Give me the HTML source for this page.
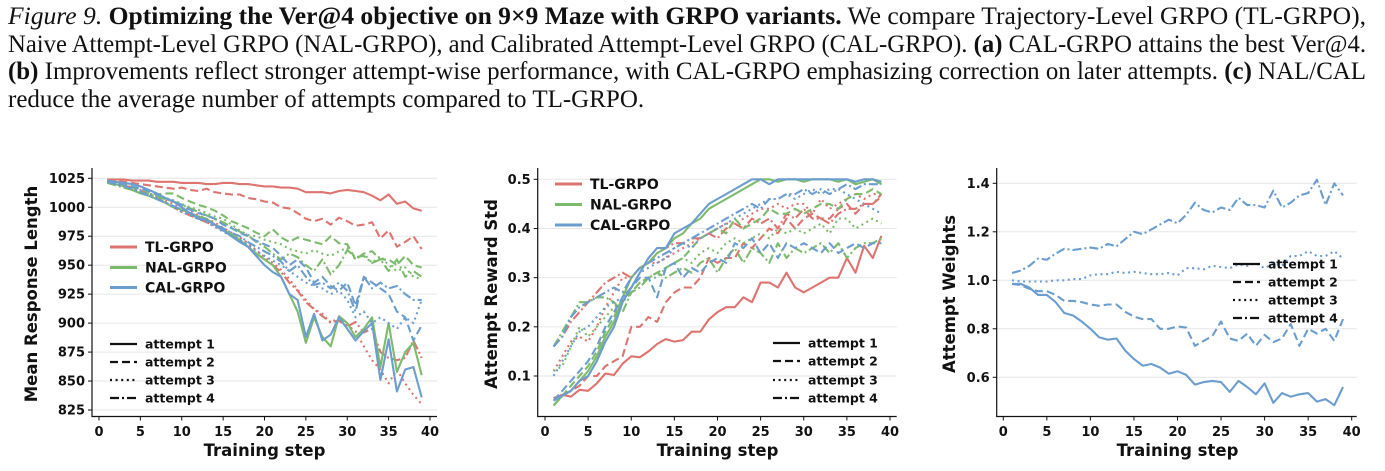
<!DOCTYPE html>
<html><head><meta charset="utf-8"><style>
body{margin:0;width:1385px;height:471px;background:#fff;overflow:hidden;position:relative;font-family:"Liberation Serif",serif}
.cap{position:absolute;left:8px;font-size:25px;line-height:28px;color:#111;white-space:nowrap;transform-origin:0 0}
svg{position:absolute;left:0;top:0}
text{font-family:"DejaVu Sans","Liberation Sans",sans-serif;font-weight:bold;fill:#111}
</style></head><body>
<div class="cap fit" style="top:3px"><i>Figure 9.</i> <b>Optimizing the Ver@4 objective on 9×9 Maze with GRPO variants.</b> We compare Trajectory-Level GRPO (TL-GRPO),</div>
<div class="cap fit" style="top:30.5px">Naive Attempt-Level GRPO (NAL-GRPO), and Calibrated Attempt-Level GRPO (CAL-GRPO). <b>(a)</b> CAL-GRPO attains the best Ver@4.</div>
<div class="cap fit" style="top:58px"><b>(b)</b> Improvements reflect stronger attempt-wise performance, with CAL-GRPO emphasizing correction on later attempts. <b>(c)</b> NAL/CAL</div>
<div class="cap" style="top:85.5px">reduce the average number of attempts compared to TL-GRPO.</div>
<svg id="s" width="1385" height="471"></svg>
<script>
document.querySelectorAll('.fit').forEach(d=>{const w=d.getBoundingClientRect().width;d.style.transform='scaleX('+(1358/w)+')';});
const steps=[];for(let i=1;i<=39;i++)steps.push(i);
const xTicks=[0,5,10,15,20,25,30,35,40];
// Chart A: mean response length
const aTicks=[825,850,875,900,925,950,975,1000,1025];
const aTL1=[1024,1024,1024,1023,1023,1023,1022,1022,1022,1021,1021,1021,1020,1020,1021,1021,1020,1020,1019,1018,1018,1017,1017,1016,1013,1013,1013,1012,1014,1015,1014,1013,1010,1006,1011,1003,1005,999,997];
const aTL2=[1024,1023,1022,1021,1020,1019,1018,1017,1016,1017,1015,1014,1016,1013,1012,1011,1011,1008,1007,1005,1004,1000,999,995,990,988,990,985,991,988,984,985,987,973,980,966,970,975,964];
const aTL3=[1023,1022,1020,1017,1015,1012,1010,1006,1003,1000,997,993,990,987,982,978,974,969,963,957,952,946,938,929,920,912,908,900,905,898,893,880,868,860,848,860,848,838,830];
const aTL4=[1023,1021,1019,1017,1014,1011,1008,1004,1000,996,993,990,987,984,980,976,971,966,960,955,950,944,935,928,918,912,906,901,902,897,901,892,895,875,870,868,870,885,870];
const aNAL1=[1022,1020,1018,1015,1012,1010,1007,1004,1000,998,995,992,990,985,980,977,972,966,960,955,950,940,925,910,883,905,888,880,906,900,888,895,905,862,900,858,875,883,855];
const aNAL2=[1022,1021,1019,1017,1016,1013,1011,1012,1012,1008,1005,1002,1000,997,993,988,985,982,978,975,981,974,970,974,972,970,968,975,969,968,955,960,962,955,955,950,958,950,948];
const aNAL3=[1022,1020,1018,1016,1014,1012,1010,1008,1006,1003,1000,998,995,992,990,985,980,976,975,972,970,968,964,962,960,963,960,958,962,965,955,960,952,958,950,945,948,940,938];
const aNAL4=[1021,1019,1017,1015,1013,1011,1009,1007,1005,1002,999,996,993,990,987,983,979,976,970,966,960,955,960,957,950,945,955,942,950,963,957,958,952,955,945,955,940,945,940];
const aCAL1=[1023,1022,1021,1020,1018,1015,1012,1008,1005,1000,995,990,989,985,980,975,970,966,958,950,944,940,925,920,888,908,885,890,905,895,885,893,900,851,886,841,860,862,836];
const aCAL2=[1022,1021,1020,1018,1016,1014,1011,1008,1005,1002,998,995,993,990,985,982,978,975,971,968,965,958,950,955,948,935,940,932,928,935,915,940,935,930,925,910,905,885,898];
const aCAL3=[1022,1020,1018,1016,1014,1011,1008,1004,1000,996,993,990,987,983,979,975,972,968,962,958,954,950,945,940,935,932,930,925,928,920,905,910,900,905,900,895,905,900,920];
const aCAL4=[1022,1020,1018,1016,1013,1010,1007,1004,1001,998,995,992,989,985,982,978,975,970,966,962,958,953,945,950,940,933,935,930,935,928,910,940,930,935,930,932,925,920,920];
// Chart B: attempt reward std
const bTicks=[0.1,0.2,0.3,0.4,0.5];
const bTL1=[0.055,0.062,0.058,0.072,0.07,0.085,0.105,0.102,0.125,0.14,0.138,0.15,0.165,0.175,0.17,0.173,0.19,0.19,0.215,0.23,0.24,0.24,0.26,0.25,0.29,0.29,0.28,0.31,0.28,0.27,0.28,0.29,0.3,0.3,0.34,0.31,0.365,0.34,0.385];
const bTL2=[0.05,0.06,0.07,0.08,0.1,0.1,0.12,0.13,0.14,0.2,0.2,0.22,0.21,0.25,0.27,0.28,0.28,0.3,0.34,0.33,0.34,0.34,0.37,0.36,0.38,0.4,0.39,0.42,0.4,0.42,0.43,0.42,0.42,0.44,0.45,0.43,0.45,0.45,0.465];
const bTL3=[0.11,0.14,0.17,0.18,0.17,0.2,0.24,0.27,0.3,0.3,0.32,0.33,0.33,0.34,0.35,0.36,0.37,0.38,0.39,0.4,0.41,0.41,0.42,0.43,0.44,0.44,0.45,0.44,0.45,0.45,0.43,0.46,0.44,0.45,0.46,0.47,0.46,0.47,0.47];
const bTL4=[0.16,0.18,0.21,0.23,0.25,0.27,0.29,0.3,0.31,0.3,0.32,0.33,0.35,0.36,0.37,0.37,0.38,0.38,0.39,0.38,0.4,0.41,0.4,0.42,0.41,0.42,0.4,0.43,0.42,0.44,0.42,0.42,0.41,0.43,0.44,0.44,0.45,0.45,0.47];
const bNAL1=[0.04,0.06,0.07,0.09,0.11,0.14,0.18,0.21,0.26,0.3,0.32,0.33,0.35,0.36,0.38,0.39,0.41,0.42,0.44,0.45,0.46,0.47,0.48,0.49,0.5,0.5,0.495,0.5,0.5,0.495,0.5,0.5,0.5,0.495,0.5,0.49,0.495,0.5,0.49];
const bNAL2=[0.04,0.06,0.08,0.1,0.12,0.15,0.19,0.22,0.26,0.27,0.29,0.3,0.31,0.32,0.33,0.34,0.36,0.38,0.39,0.4,0.39,0.42,0.4,0.41,0.42,0.44,0.43,0.43,0.44,0.43,0.44,0.45,0.45,0.44,0.46,0.47,0.47,0.48,0.47];
const bNAL3=[0.11,0.12,0.16,0.2,0.18,0.2,0.22,0.24,0.25,0.27,0.29,0.3,0.3,0.32,0.33,0.34,0.33,0.35,0.36,0.35,0.37,0.38,0.37,0.38,0.39,0.38,0.4,0.39,0.4,0.39,0.4,0.41,0.39,0.42,0.42,0.4,0.41,0.42,0.41];
const bNAL4=[0.16,0.19,0.22,0.25,0.25,0.26,0.26,0.25,0.23,0.27,0.28,0.3,0.31,0.3,0.31,0.32,0.31,0.33,0.34,0.31,0.34,0.36,0.33,0.36,0.35,0.33,0.37,0.34,0.36,0.35,0.36,0.37,0.35,0.37,0.34,0.36,0.37,0.37,0.38];
const bCAL1=[0.05,0.06,0.07,0.09,0.1,0.13,0.17,0.2,0.25,0.28,0.31,0.34,0.36,0.36,0.39,0.4,0.41,0.43,0.45,0.46,0.47,0.48,0.49,0.5,0.5,0.49,0.5,0.5,0.5,0.5,0.5,0.5,0.5,0.5,0.5,0.495,0.5,0.5,0.495];
const bCAL2=[0.05,0.07,0.09,0.11,0.13,0.16,0.2,0.23,0.26,0.28,0.3,0.3,0.26,0.32,0.33,0.3,0.32,0.31,0.33,0.34,0.33,0.37,0.36,0.38,0.35,0.37,0.34,0.37,0.36,0.37,0.36,0.35,0.37,0.35,0.36,0.37,0.36,0.37,0.37];
const bCAL3=[0.1,0.13,0.16,0.19,0.2,0.22,0.24,0.25,0.26,0.28,0.31,0.32,0.33,0.34,0.36,0.37,0.36,0.38,0.39,0.4,0.41,0.42,0.43,0.44,0.45,0.46,0.46,0.47,0.46,0.47,0.48,0.47,0.48,0.48,0.47,0.46,0.45,0.44,0.43];
const bCAL4=[0.16,0.18,0.22,0.24,0.25,0.26,0.27,0.28,0.27,0.3,0.32,0.33,0.34,0.35,0.36,0.37,0.38,0.39,0.4,0.41,0.42,0.43,0.44,0.45,0.44,0.46,0.46,0.47,0.47,0.48,0.47,0.48,0.47,0.48,0.49,0.48,0.49,0.49,0.49];
// Chart C: attempt weights
const cTicks=[0.6,0.8,1.0,1.2,1.4];
const cW1=[0.985,0.985,0.97,0.94,0.94,0.91,0.865,0.855,0.83,0.8,0.765,0.755,0.76,0.71,0.675,0.648,0.655,0.64,0.615,0.625,0.61,0.57,0.58,0.585,0.58,0.54,0.585,0.56,0.53,0.575,0.495,0.535,0.52,0.53,0.535,0.5,0.51,0.485,0.56];
const cW2=[0.985,0.98,0.965,0.955,0.955,0.94,0.915,0.915,0.91,0.9,0.895,0.9,0.9,0.87,0.85,0.84,0.84,0.8,0.8,0.81,0.805,0.73,0.75,0.77,0.83,0.76,0.75,0.78,0.73,0.775,0.745,0.76,0.82,0.73,0.8,0.78,0.8,0.75,0.84];
const cW3=[1.0,0.995,0.995,0.995,0.995,1.0,1.0,1.005,1.005,1.02,1.025,1.025,1.035,1.03,1.035,1.03,1.025,1.025,1.03,1.02,1.05,1.05,1.045,1.06,1.055,1.05,1.065,1.06,1.07,1.05,1.07,1.06,1.1,1.1,1.12,1.1,1.1,1.12,1.09];
const cW4=[1.03,1.04,1.06,1.09,1.085,1.11,1.13,1.125,1.13,1.135,1.13,1.15,1.14,1.17,1.2,1.19,1.21,1.23,1.25,1.235,1.27,1.32,1.29,1.28,1.3,1.29,1.34,1.31,1.31,1.3,1.37,1.3,1.32,1.35,1.36,1.415,1.31,1.4,1.35];

const RED='#dd7470',GREEN='#7dbb6c',BLUE='#6b9dcf';
const DASH=['','8,4','2,3.6','9,3,2,3'];
const svg=document.getElementById('s');
const NS='http://www.w3.org/2000/svg';
function el(tag,attrs,parent){const e=document.createElementNS(NS,tag);for(const k in attrs)e.setAttribute(k,attrs[k]);(parent||svg).appendChild(e);return e;}
function txt(s,attrs,parent){const e=el('text',attrs,parent);e.textContent=s;return e;}

function axes(cfg){
  const g=el('g',{});
  
  
  const X=v=>cfg.x0+(v-0)*(cfg.x40-cfg.x0)/40;
  const Y=v=>cfg.yA+(v-cfg.vA)*(cfg.yB-cfg.yA)/(cfg.vB-cfg.vA);
  cfg.yt.forEach(v=>{
    const l=el('line',{x1:cfg.left,x2:cfg.right,y1:Y(v),y2:Y(v),stroke:'#e6e6e6','stroke-width':1},g);
    
    
    el('line',{x1:cfg.left-4,x2:cfg.left,y1:Y(v),y2:Y(v),stroke:'#111','stroke-width':1},g);
    const t=txt(cfg.fmt(v),{x:cfg.left-7,y:Y(v)+4.5,'text-anchor':'end','font-size':13},g);
    
    
  });
  xTicks.forEach(v=>{
    el('line',{x1:X(v),x2:X(v),y1:416.5,y2:420.5,stroke:'#111','stroke-width':1},g);
    const t=txt(String(v),{x:X(v),y:436,'text-anchor':'middle','font-size':13},g);
    
    
  });
  el('path',{d:`M${cfg.left},${cfg.top} V416.5 H${cfg.right}`,fill:'none',stroke:'#111','stroke-width':1.2},g);
  const xt=txt('Training step',{x:(cfg.x0+cfg.x40)/2,y:456,'text-anchor':'middle','font-size':16.5},g);
  
  
  const yt=txt(cfg.ytitle,{x:0,y:0,'text-anchor':'middle','font-size':16.5,transform:`translate(${cfg.ytx},${(cfg.top+416)/2+2}) rotate(-90)`},g);
  
  
  cfg.series.forEach(s=>{
    const d=s.data.map((v,i)=>(i?'L':'M')+X(steps[i]).toFixed(1)+','+Y(v).toFixed(1)).join('');
    const p=el('path',{d:d,fill:'none',stroke:s.c,'stroke-width':2.1,'stroke-dasharray':DASH[s.a],'stroke-linejoin':'round'},g);
    
    
  });
  return g;
}
function legendM(x,ys){
  [['TL-GRPO',RED],['NAL-GRPO',GREEN],['CAL-GRPO',BLUE]].forEach((m,i)=>{
    const g=el('g',{});
    
    
    el('line',{x1:x,x2:x+27,y1:ys[i],y2:ys[i],stroke:m[1],'stroke-width':3},g);
    txt(m[0],{x:x+35,y:ys[i]+5,'font-size':14},g);
  });
}
function legendA(x,ys){
  ys.forEach((y,i)=>{
    const g=el('g',{});
    
    
    el('line',{x1:x,x2:x+27,y1:y,y2:y,stroke:'#111','stroke-width':2.2,'stroke-dasharray':DASH[i]},g);
    txt('attempt '+(i+1),{x:x+35,y:y+4.5,'font-size':12.5},g);
  });
}
function ser(arrs,cols,names){const out=[];arrs.forEach((a,i)=>out.push({data:a,c:cols[i],a:i%4,n:names[i]}));return out;}
const A=[aTL1,aTL2,aTL3,aTL4,aNAL1,aNAL2,aNAL3,aNAL4,aCAL1,aCAL2,aCAL3,aCAL4];
const B=[bTL1,bTL2,bTL3,bTL4,bNAL1,bNAL2,bNAL3,bNAL4,bCAL1,bCAL2,bCAL3,bCAL4];
const cols=[RED,RED,RED,RED,GREEN,GREEN,GREEN,GREEN,BLUE,BLUE,BLUE,BLUE];
const nm=[];['tl','nal','cal'].forEach(m=>{for(let k=1;k<=4;k++)nm.push('line-'+m+'-attempt-'+k);});
axes({name:'chart-a-response-length',left:92,right:437,top:168,x0:99,x40:430,vA:1025,yA:178.3,vB:825,yB:410,yt:aTicks,fmt:v=>String(v),ytitle:'Mean Response Length',ytx:37,series:ser(A,cols,nm)});
legendM(110,[247,267.5,287.5]);legendA(110,[344,362,380,398]);
axes({name:'chart-b-reward-std',left:537.7,right:896.7,top:168,x0:545,x40:890,vA:0.5,yA:179.3,vB:0.1,yB:376,yt:bTicks,fmt:v=>v.toFixed(1),ytx:497,ytitle:'Attempt Reward Std',series:ser(B,cols,nm)});
legendM(555,[184,204.5,225]);legendA(773,[343,361,380,398]);
axes({name:'chart-c-attempt-weights',left:996.7,right:1356.7,top:168,x0:1003.3,x40:1351.7,vA:1.4,yA:183.3,vB:0.6,yB:377.3,yt:cTicks,fmt:v=>v.toFixed(1),ytx:955,ytitle:'Attempt Weights',series:ser([cW1,cW2,cW3,cW4],[BLUE,BLUE,BLUE,BLUE],['line-weight-attempt-1','line-weight-attempt-2','line-weight-attempt-3','line-weight-attempt-4'])});
legendA(1233,[264,282,300,318]);
</script>
</body></html>
